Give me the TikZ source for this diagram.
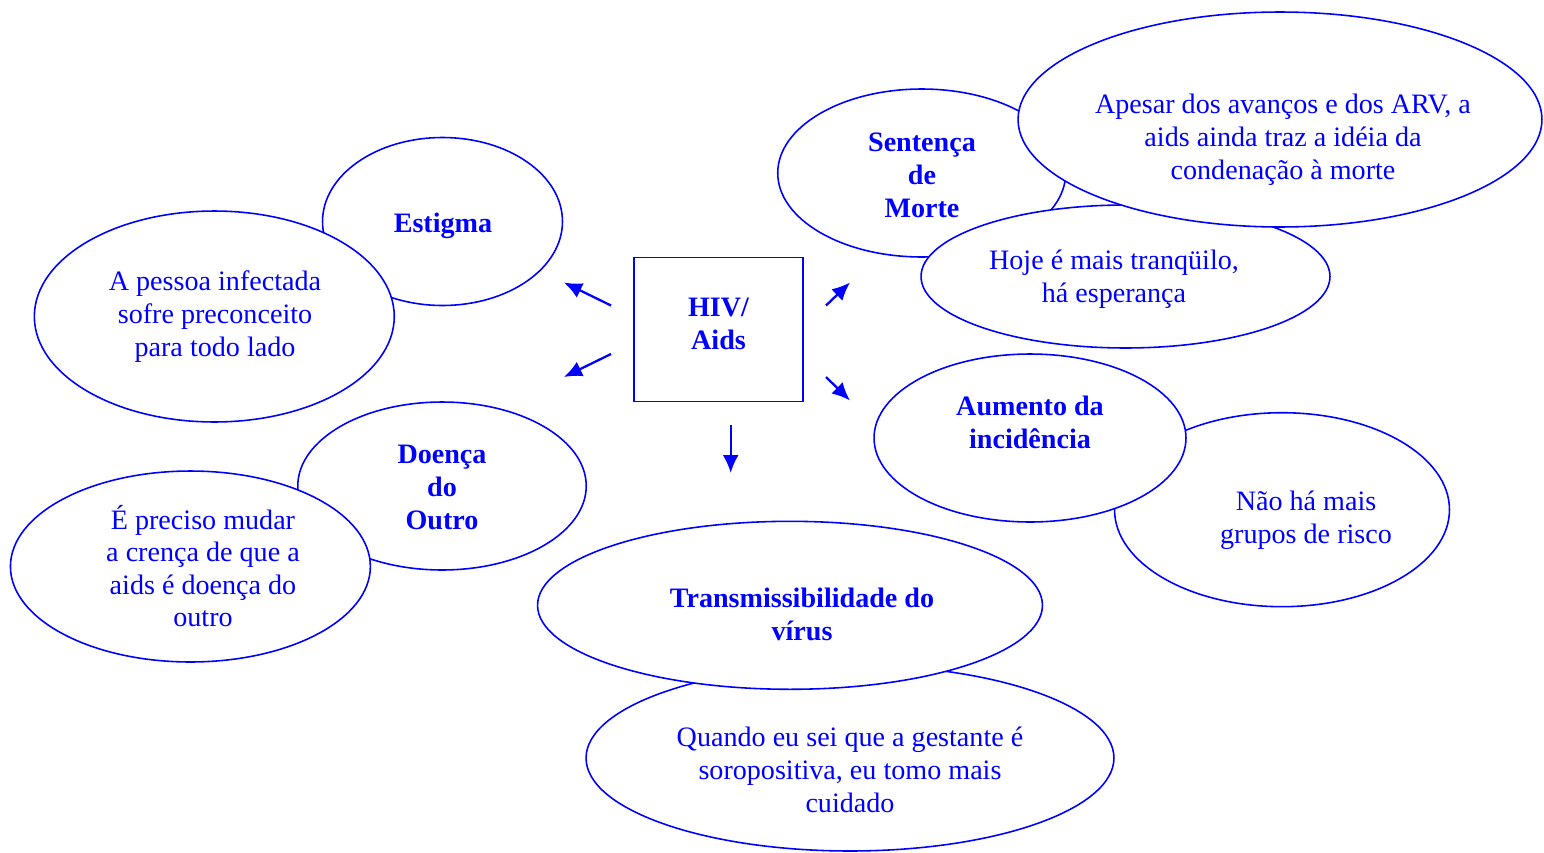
\documentclass[tikz,border=0pt]{standalone}
\usepackage{fontspec}
\setmainfont{Liberation Serif}
\usepackage{tikz}
\usetikzlibrary{shapes.geometric,arrows.meta}

\begin{document}
\begin{tikzpicture}[x=0.02cm, y=-0.02cm,
    bubble/.style={shape=ellipse, draw=blue, fill=white, line width=0.9pt, inner sep=0pt},
    words/.style={text=blue, align=center, font=\fontsize{16}{18.8}\selectfont},
    title/.style={words, font=\fontsize{16}{18.8}\selectfont\bfseries},
    pointer/.style={draw=blue, line width=1.3pt, -{Latex[length=3.6mm, width=3.2mm]}}]
  \useasboundingbox (0, 0) rectangle (1544, 852);
  % left side
  \node (estigma) at (442.5, 221.5) [bubble, minimum width=4.8cm, minimum height=3.36cm] {};
  \node (pessoa) at (214.3, 316.5) [bubble, minimum width=7.2cm, minimum height=4.22cm] {};
  \node (doenca) at (442, 486) [bubble, minimum width=5.77cm, minimum height=3.36cm] {};
  \node (preciso) at (190.4, 566.5) [bubble, minimum width=7.2cm, minimum height=3.82cm] {};
  % right side
  \node (sentenca) at (921.7, 173) [bubble, minimum width=5.76cm, minimum height=3.36cm] {};
  \node (hoje) at (1125.5, 276.5) [bubble, minimum width=8.18cm, minimum height=2.86cm] {};
  \node (apesar) at (1280, 119.5) [bubble, minimum width=10.48cm, minimum height=4.3cm] {};
  \node (naoha) at (1282, 509.7) [bubble, minimum width=6.7cm, minimum height=3.88cm] {};
  \node (aumento) at (1030, 438) [bubble, minimum width=6.24cm, minimum height=3.36cm] {};
  % bottom
  \node (quando) at (850, 758) [bubble, minimum width=10.56cm, minimum height=3.72cm] {};
  \node (transm) at (790, 605.3) [bubble, minimum width=10.1cm, minimum height=3.36cm] {};
  % texts
  \node (estigma-t) at (443, 226) [title] {Estigma};
  \node (pessoa-t) at (215, 317) [words] {A pessoa infectada\\sofre preconceito\\para todo lado};
  \node (doenca-t) at (442, 487.5) [title] {Doença\\do\\Outro};
  \node (preciso-t) at (203, 566) [words, font=\fontsize{16}{18.5}\selectfont] {É preciso mudar\\a crença de que a\\aids é doença do\\outro};
  \node (sentenca-t) at (922, 175) [title] {Sentença\\de\\Morte};
  \node (apesar-t) at (1283, 140) [words] {Apesar dos avanços e dos ARV, a\\aids ainda traz a idéia da\\condenação à morte};
  \node (hoje-t) at (1114, 279.5) [words] {Hoje é mais tranqüilo,\\há esperança};
  \node (aumento-t) at (1030, 422.5) [title] {Aumento da\\incidência};
  \node (naoha-t) at (1306, 520) [words] {Não há mais\\grupos de risco};
  \node (transm-t) at (802, 614.5) [title] {Transmissibilidade do\\vírus};
  \node (quando-t) at (850, 769.5) [words] {Quando eu sei que a gestante é\\soropositiva, eu tomo mais\\cuidado};
  % centre
  \node (hiv) at (718.7, 329.5) [draw=blue, line width=1.1pt, minimum width=3.38cm, minimum height=2.88cm] {};
  \node (hiv-t) at (718.5, 323.5) [title] {HIV/\\Aids};
  \coordinate (ul-a) at (611, 305.5);
  \coordinate (ul-b) at (564, 282.5);
  \coordinate (dl-a) at (611, 354);
  \coordinate (dl-b) at (564, 377);
  \coordinate (ur-a) at (826, 305.5);
  \coordinate (ur-b) at (850, 282.5);
  \coordinate (dr-a) at (826, 377);
  \coordinate (dr-b) at (850, 400.5);
  \coordinate (dn-a) at (730.7, 425);
  \coordinate (dn-b) at (730.7, 473);
  \draw[pointer] (ul-a) -- (ul-b);
  \draw[pointer] (dl-a) -- (dl-b);
  \draw[pointer] (ur-a) -- (ur-b);
  \draw[pointer] (dr-a) -- (dr-b);
  \draw[pointer] (dn-a) -- (dn-b);
\end{tikzpicture}
\end{document}
